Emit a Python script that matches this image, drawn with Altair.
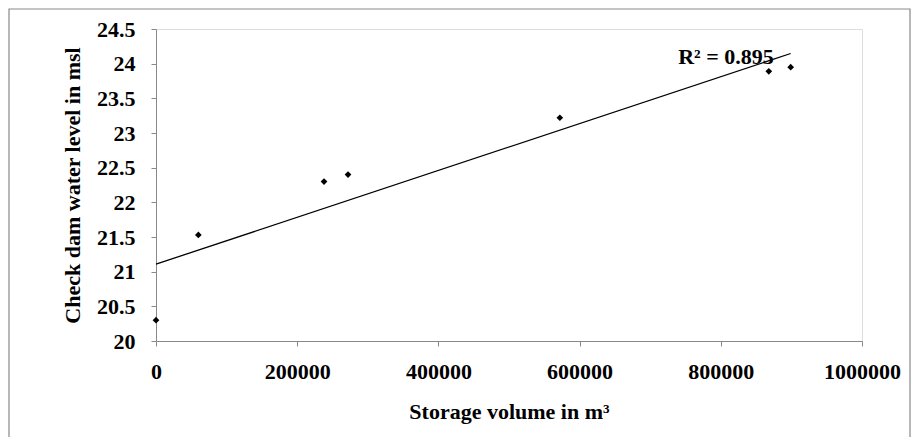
import altair as alt
import pandas as pd

# Data
storage_volume = [0, 60000, 238000, 272000, 572000, 868000, 899000]
water_level = [20.30, 21.53, 22.30, 22.40, 23.22, 23.89, 23.95]
x_ticks = [0, 200000, 400000, 600000, 800000, 1000000]
y_ticks = [20, 20.5, 21, 21.5, 22, 22.5, 23, 23.5, 24, 24.5]
r2_label = ["R\u00b2 = 0.895"]
r2_pos_x = [875000]
r2_pos_y = [24.0]

df = pd.DataFrame({"volume": storage_volume, "level": water_level})
ann = pd.DataFrame({"x": r2_pos_x, "y": r2_pos_y, "t": r2_label})

FONT = "Liberation Serif"
GREY = "#898989"

xs = alt.Scale(domain=[0, 1000000], nice=False, zero=False)
ys = alt.Scale(domain=[20, 24.5], nice=False, zero=False)

x_axis = alt.Axis(
    title="Storage volume in m\u00b3",
    values=x_ticks,
    format="d",
    grid=False,
    labelOverlap=False,
    labelFlush=False,
    domainColor=GREY,
    tickColor=GREY,
    tickSize=5,
    labelPadding=15,
    labelFont=FONT,
    labelFontSize=22,
    labelFontWeight="bold",
    labelColor="black",
    titleFont=FONT,
    titleFontSize=22,
    titleFontWeight="bold",
    titleColor="black",
    titlePadding=19,
)
y_axis = alt.Axis(
    title="Check dam water level in msl",
    values=y_ticks,
    format=".1~f",
    grid=False,
    labelOverlap=False,
    labelFlush=False,
    domainColor=GREY,
    tickColor=GREY,
    tickSize=5,
    labelPadding=16,
    labelFont=FONT,
    labelFontSize=22,
    labelFontWeight="bold",
    labelColor="black",
    titleFont=FONT,
    titleFontSize=22,
    titleFontWeight="bold",
    titleColor="black",
    titlePadding=12,
)

base = alt.Chart(df)

frame = alt.Chart(pd.DataFrame({"a": [0]})).mark_rect(
    fill=None, stroke=GREY, strokeWidth=1.2
).encode(
    x=alt.value(-147), x2=alt.value(754), y=alt.value(-20), y2=alt.value(430)
)

trend = base.transform_regression("volume", "level").mark_line(
    color="black", strokeWidth=1.3
).encode(
    x=alt.X("volume:Q", scale=xs, axis=x_axis),
    y=alt.Y("level:Q", scale=ys, axis=y_axis),
)

points = base.mark_point(shape="diamond", filled=True, color="black", size=45, opacity=1).encode(
    x=alt.X("volume:Q", scale=xs, axis=x_axis),
    y=alt.Y("level:Q", scale=ys, axis=y_axis),
)

label = alt.Chart(ann).mark_text(
    font=FONT, fontSize=22, fontWeight="bold", color="black", align="right", baseline="alphabetic"
).encode(
    x=alt.X("x:Q", scale=xs, axis=x_axis),
    y=alt.Y("y:Q", scale=ys, axis=y_axis),
    text="t:N",
)

chart = alt.layer(frame, trend, points, label).properties(
    width=706,
    height=312,
    autosize=alt.AutoSizeParams(type="none"),
    padding={"left": 156, "top": 29, "right": 52, "bottom": 96},
).configure_view(stroke=None).configure(background="white")

chart.save("out.html", embed_options={"renderer": "svg", "actions": False})
